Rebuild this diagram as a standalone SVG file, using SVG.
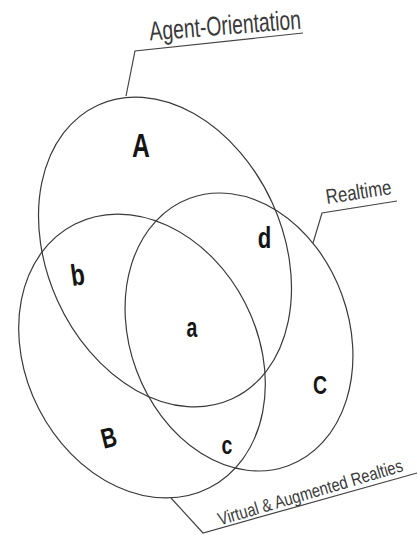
<svg xmlns="http://www.w3.org/2000/svg" width="418" height="535" viewBox="0 0 418 535">
<style>
.ell{fill:none;stroke:#3a3a3a;stroke-width:1.2}
.lead{fill:none;stroke:#444;stroke-width:1.2}
.cap{font-family:"Liberation Sans",Arial,sans-serif;fill:#3a3a3a}
.lbl{font-family:"Liberation Sans",Arial,sans-serif;font-weight:bold;fill:#151515;text-anchor:middle}
</style>
<rect width="418" height="535" fill="#fff"/>
<g id="set-A">
<ellipse class="ell" cx="165" cy="252" rx="161.5" ry="118" transform="rotate(65.6 165 252)"/>
</g>
<g id="set-B">
<ellipse class="ell" cx="142" cy="356" rx="148" ry="116" transform="rotate(62.9 142 356)"/>
</g>
<g id="set-C">
<ellipse class="ell" cx="239" cy="332" rx="142.5" ry="109.5" transform="rotate(69.8 239 332)"/>
</g>
<g id="connectors">
<polyline class="lead" points="126,96 135,51 303,33"/>
<polyline class="lead" points="313,243 322,213 397,201"/>
<polyline class="lead" points="171,498 203,533 417,473"/>
</g>
<g id="title-agent">
<text class="cap" font-size="27" transform="translate(150,40.5) rotate(-4.5)" textLength="152" lengthAdjust="spacingAndGlyphs">Agent-Orientation</text>
</g>
<g id="title-realtime">
<text class="cap" font-size="21" transform="translate(327,204) rotate(-8.7)" textLength="66" lengthAdjust="spacingAndGlyphs">Realtime</text>
</g>
<g id="title-virtual">
<text class="cap" font-size="18" transform="translate(220,525.5) rotate(-16.5)" textLength="192" lengthAdjust="spacingAndGlyphs">Virtual &amp; Augmented Realties</text>
</g>
<g id="label-A"><text class="lbl" font-size="33" transform="translate(141,156.5) scale(0.75,1)">A</text></g>
<g id="label-b"><text class="lbl" font-size="30" transform="translate(79,285) rotate(-8) scale(0.75,1)">b</text></g>
<g id="label-d"><text class="lbl" font-size="29.5" transform="translate(264.5,248) scale(0.75,1)">d</text></g>
<g id="label-a"><text class="lbl" font-size="27" transform="translate(192,336.5) scale(0.72,1)">a</text></g>
<g id="label-B"><text class="lbl" font-size="28" transform="translate(111,447) rotate(-14) scale(0.75,1)">B</text></g>
<g id="label-c"><text class="lbl" font-size="25" transform="translate(227,453.5) scale(0.78,1)">c</text></g>
<g id="label-C"><text class="lbl" font-size="26" transform="translate(320,394) scale(0.75,1)">C</text></g>
</svg>
